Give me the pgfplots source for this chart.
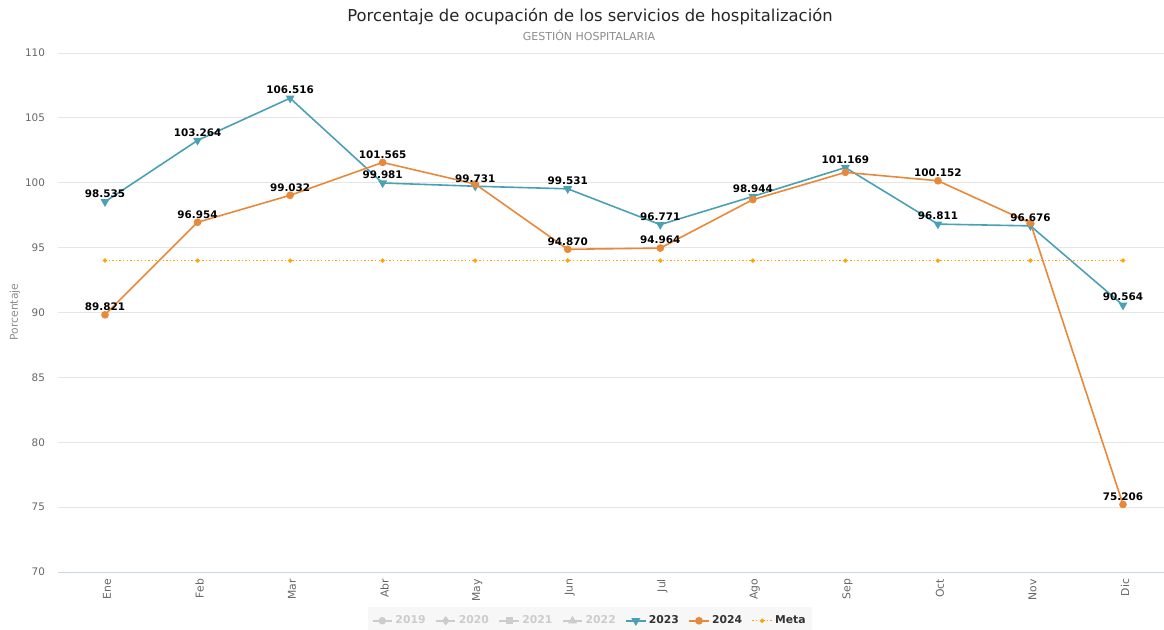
\documentclass[border=0pt]{standalone}
\usepackage{pgfplots}
\pgfplotsset{compat=1.18}
\usepackage{fontspec}
\setmainfont{DejaVu Sans}
\definecolor{cblue}{HTML}{4AA0B5}
\definecolor{corange}{HTML}{E8893A}
\definecolor{cmeta}{HTML}{FFA500}
\definecolor{cgrid}{HTML}{E6E6E6}
\definecolor{caxis}{HTML}{CCD6EB}
\definecolor{ctick}{HTML}{666666}
\definecolor{chid}{HTML}{CCCCCC}
\begin{document}
\begin{tikzpicture}
\path[use as bounding box] (0,0) rectangle (582pt,315pt);
\node[font=\fontsize{8.2pt}{9pt}\selectfont, text=black!85] at (295pt,306.5pt) {Porcentaje de ocupación de los servicios de hospitalización};
\node[font=\fontsize{5.5pt}{6pt}\selectfont, text=black!45] at (294.5pt,297.3pt) {GESTIÓN HOSPITALARIA};
\node[font=\fontsize{5.4pt}{6pt}\selectfont, text=black!45, rotate=90] at (7.5pt,159pt) {Porcentaje};
\begin{axis}[
  at={(29pt,29pt)}, anchor=south west,
  scale only axis, width=553pt, height=259.5pt,
  xmin=-0.508, xmax=11.443, ymin=70, ymax=110,
  ytick={70,75,...,110},
  xtick={0,...,11},
  xticklabels={Ene,Feb,Mar,Abr,May,Jun,Jul,Ago,Sep,Oct,Nov,Dic},
  axis x line*=bottom, axis y line*=left,
  x axis line style={draw=caxis, -},
  y axis line style={draw=none},
  major tick length=0pt,
  ymajorgrids, grid style={draw=cgrid, line width=0.4pt},
  /pgf/number format/assume math mode=true,
  yticklabel style={font=\fontsize{5.2pt}{6pt}\selectfont, text=ctick, xshift=-3pt},
  xticklabel style={font=\fontsize{5.4pt}{6pt}\selectfont, text=ctick, rotate=90, anchor=east, yshift=-1pt},
  legend columns=7,
  legend style={at={(rel axis cs:0.481,-0.094)}, anchor=center, fill=black!3, draw=none,
    font=\fontsize{5.4pt}{6pt}\selectfont\bfseries, inner sep=2pt,
    nodes={inner xsep=1.3pt},
    /tikz/every even column/.append style={column sep=3.5pt}},
  legend cell align=left,
  legend image code/.code={\draw[mark repeat=2,mark phase=2] plot coordinates {(0cm,0cm) (0.17cm,0cm) (0.34cm,0cm)};},
  clip=false,
]
\addlegendimage{chid, line width=0.9pt, mark=*, mark size=1.4pt}
\addlegendentry{\textcolor{chid}{2019}}
\addlegendimage{chid, line width=0.9pt, mark=diamond*, mark size=1.6pt}
\addlegendentry{\textcolor{chid}{2020}}
\addlegendimage{chid, line width=0.9pt, mark=square*, mark size=1.3pt}
\addlegendentry{\textcolor{chid}{2021}}
\addlegendimage{chid, line width=0.9pt, mark=triangle*, mark size=1.6pt}
\addlegendentry{\textcolor{chid}{2022}}
\addplot[cblue, line width=0.8pt, mark=triangle*, mark size=1.8pt, mark options={rotate=180}] coordinates {
(0,98.535) (1,103.264) (2,106.516) (3,99.981) (4,99.731) (5,99.531) (6,96.771) (7,98.944) (8,101.169) (9,96.811) (10,96.676) (11,90.564)};
\addlegendentry{\textcolor{black!80}{2023}}
\addplot[corange, line width=0.8pt, mark=*, mark size=1.5pt] coordinates {
(0,89.821) (1,96.954) (2,99.032) (3,101.565) (4,99.900) (5,94.870) (6,94.964) (7,98.700) (8,100.800) (9,100.152) (10,96.900) (11,75.206)};
\addlegendentry{\textcolor{black!80}{2024}}
\addplot[cmeta, line width=0.7pt, dash pattern=on 0.7pt off 1.1pt, mark=*, mark size=0.7pt, mark options={solid}] coordinates {
(0,94) (1,94) (2,94) (3,94) (4,94) (5,94) (6,94) (7,94) (8,94) (9,94) (10,94) (11,94)};
\addlegendentry{\textcolor{black!80}{Meta}}
% data labels
\addplot[draw=none, forget plot, nodes near coords, point meta=y,
  every node near coord/.append style={font=\fontsize{5.2pt}{6pt}\selectfont\bfseries, text=black, anchor=south, yshift=-1.5pt,
  /pgf/number format/.cd, fixed, fixed zerofill, precision=3, 1000 sep={}}]
  coordinates {(0,98.535) (1,103.264) (2,106.516) (3,99.981) (4,99.731) (5,99.531) (6,96.771) (7,98.944) (8,101.169) (9,96.811) (10,96.676) (11,90.564)};
\addplot[draw=none, forget plot, nodes near coords, point meta=y,
  every node near coord/.append style={font=\fontsize{5.2pt}{6pt}\selectfont\bfseries, text=black, anchor=south, yshift=-1.5pt,
  /pgf/number format/.cd, fixed, fixed zerofill, precision=3, 1000 sep={}}]
  coordinates {(0,89.821) (1,96.954) (2,99.032) (3,101.565) (5,94.870) (6,94.964) (9,100.152) (11,75.206)};
\end{axis}
\end{tikzpicture}
\end{document}
